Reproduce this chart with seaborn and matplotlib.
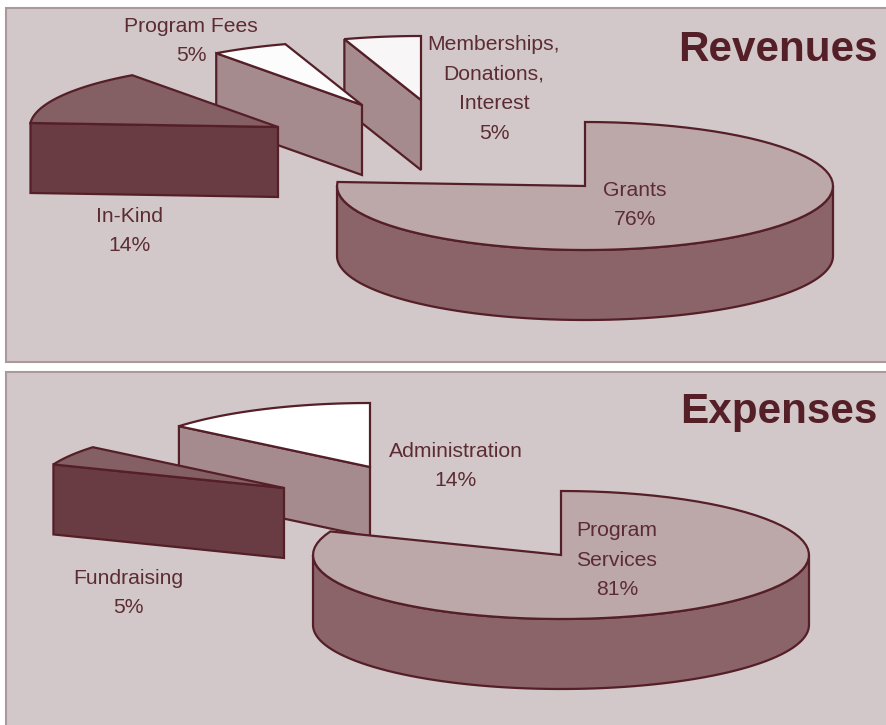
import numpy as np
import matplotlib
matplotlib.use("Agg")
import matplotlib.pyplot as plt
from matplotlib.patches import Polygon, Rectangle
import seaborn as sns

# values
rev_labels = ["Grants\n76%", "In-Kind\n14%", "Program Fees\n5%", "Memberships,\nDonations,\nInterest\n5%"]
rev_shares = [76, 14, 5, 5]
exp_labels = ["Program\nServices\n81%", "Fundraising\n5%", "Administration\n14%"]
exp_shares = [81, 5, 14]

# layout, pixels of the page
RX, RY, DEPTH = 248, 64, 70
rev_centers = [(585, 186), (278, 127), (362, 105), (421, 100)]
rev_text_pos = [(635, 205), (130, 231), (191, 41), (494, 89)]
exp_centers = [(561, 555), (284, 488), (370, 467)]
exp_text_pos = [(617, 560), (128, 593), (456, 466)]

BG = "#d3c8c9"
EDGE = "#551f28"
TEXT = "#5c2c34"
BORDER = "#ab989b"

# top colour, face colour per slice
rev_styles = [("#bca8a9", "#8a6468"), ("#845f64", "#683c42"),
              ("#fdfcfc", "#a68b8e"), ("#f8f6f7", "#a68b8e")]
exp_styles = [("#bca8a9", "#8a6468"), ("#845f64", "#683c42"),
              ("#ffffff", "#a68b8e")]


def rim(cx, cy, a0, a1, n=80):
    a = np.radians(np.linspace(a0, a1, n))
    return np.column_stack([cx + RX * np.cos(a), cy - RY * np.sin(a)])


def draw_slice(ax, center, a_start, a_end, top_col, face_col, big, z):
    # a_start > a_end, going clockwise
    cx, cy = center
    lw = 1.6
    if big:
        # outer wall, only the front half of the rim shows
        a0 = min(a_start, 0)
        a1 = max(a_end, -180)
        r = rim(cx, cy, a0, a1)
        wall = np.vstack([r, (r + [0, DEPTH])[::-1]])
        ax.add_patch(Polygon(wall, closed=True, fc=face_col, ec=EDGE, lw=lw, zorder=z))
    else:
        # cut face running from the centre out to the first rim point
        a = np.radians(a_start)
        p = (cx + RX * np.cos(a), cy - RY * np.sin(a))
        face = [p, (cx, cy), (cx, cy + DEPTH), (p[0], p[1] + DEPTH)]
        ax.add_patch(Polygon(face, closed=True, fc=face_col, ec=EDGE, lw=lw, zorder=z))
    top = np.vstack([[(cx, cy)], rim(cx, cy, a_start, a_end)])
    ax.add_patch(Polygon(top, closed=True, fc=top_col, ec=EDGE, lw=lw, zorder=z))


def draw_pie(ax, shares, centers, styles, labels, text_pos):
    # clockwise from 12 o'clock, like the source chart
    edges = 90 - np.cumsum([0] + shares) * 3.6
    for z, i in enumerate(range(len(shares) - 1, -1, -1)):  # biggest slice goes on top
        top_col, face_col = styles[i]
        draw_slice(ax, centers[i], edges[i], edges[i + 1], top_col, face_col, i == 0, 5 + z)
    for lab, (x, y) in zip(labels, text_pos):
        ax.text(x, y, lab, ha="center", va="center", color=TEXT, fontsize=15.2,
                linespacing=1.7, zorder=50)


sns.set_theme(style="white")
plt.rcParams["font.family"] = ["Liberation Sans", "DejaVu Sans"]

fig = plt.figure(figsize=(8.86, 7.25), dpi=100)
ax = fig.add_axes([0, 0, 1, 1])
ax.set_xlim(0, 886)
ax.set_ylim(725, 0)
ax.axis("off")

ax.add_patch(Rectangle((6.5, 8), 890, 354, fc=BG, ec=BORDER, lw=1.5, zorder=1))
ax.add_patch(Rectangle((6.5, 372), 890, 370, fc=BG, ec=BORDER, lw=1.5, zorder=1))

draw_pie(ax, rev_shares, rev_centers, rev_styles, rev_labels, rev_text_pos)
draw_pie(ax, exp_shares, exp_centers, exp_styles, exp_labels, exp_text_pos)

ax.text(878, 50, "Revenues", ha="right", va="center", fontsize=30.4, fontweight="bold", color=EDGE, zorder=50)
ax.text(878, 412, "Expenses", ha="right", va="center", fontsize=30.4, fontweight="bold", color=EDGE, zorder=50)

fig.savefig("out.png", dpi=100)
